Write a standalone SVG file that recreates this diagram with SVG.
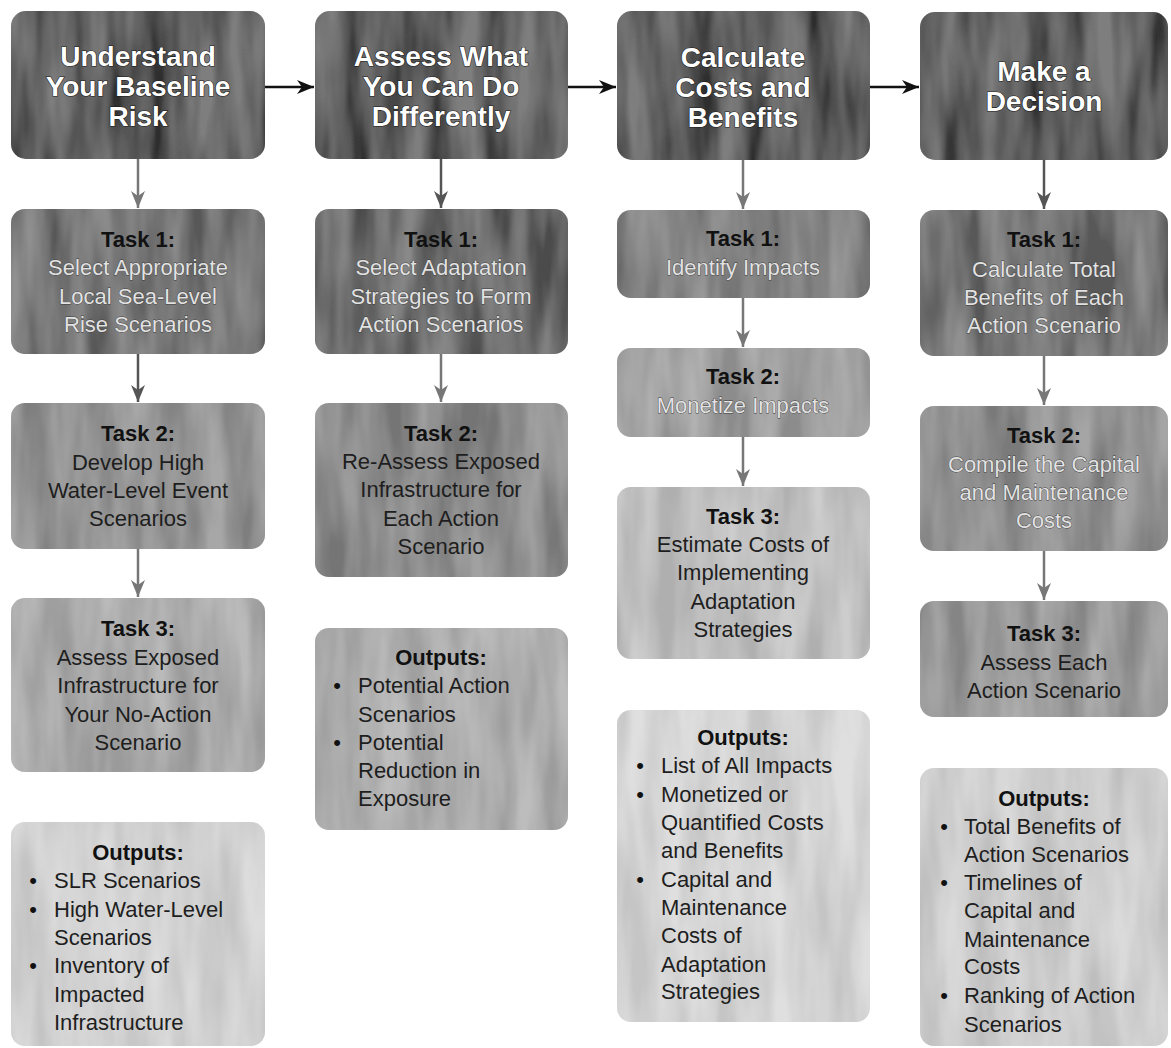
<svg xmlns="http://www.w3.org/2000/svg" width="1171" height="1048" viewBox="0 0 1171 1048">
<defs>
<style>
.hdr{fill:#353535;filter:url(#grunge)}
.box{filter:url(#grunge)}
.ht{font-family:"Liberation Sans",Arial,sans-serif;font-weight:bold;font-size:28px;fill:#ffffff;stroke:#1a1a1a;stroke-width:1.2;paint-order:stroke;text-anchor:middle}
.tt{font-family:"Liberation Sans",Arial,sans-serif;font-weight:bold;font-size:22px;fill:#111111;text-anchor:middle}
.bd{font-family:"Liberation Sans",Arial,sans-serif;font-size:22px;fill:#1e1e1e;text-anchor:middle}
.bl{font-family:"Liberation Sans",Arial,sans-serif;font-size:22px;fill:#e2e2e2;stroke:#3c3c3c;stroke-width:0.8;paint-order:stroke;text-anchor:middle}
.ot{font-family:"Liberation Sans",Arial,sans-serif;font-size:22px;fill:#1e1e1e}
.blt{font-family:"Liberation Sans",Arial,sans-serif;font-size:22px;fill:#111111;text-anchor:middle}
.ab{stroke:#111111;stroke-width:2.5;fill:none}
.ag{stroke:#777777;stroke-width:2.5;fill:none}
.ad{stroke:#555555;stroke-width:2.5;fill:none}
</style>
<filter id="grunge" x="0" y="0" width="1" height="1">
<feTurbulence type="fractalNoise" baseFrequency="0.035 0.006" numOctaves="3" seed="7" result="n"/>
<feColorMatrix in="n" type="matrix" values="2 0 0 0 -0.5  2 0 0 0 -0.5  2 0 0 0 -0.5  0 0 0 0 0.18" result="g"/>
<feComposite in="g" in2="SourceGraphic" operator="in" result="gi"/>
<feMerge><feMergeNode in="SourceGraphic"/><feMergeNode in="gi"/></feMerge>
</filter>
<marker id="mb" markerUnits="userSpaceOnUse" markerWidth="18" markerHeight="16" refX="17" refY="8" orient="auto"><path d="M0,1 L17,8 L0,15 L5,8 Z" fill="#111111"/></marker>
<marker id="mg" markerUnits="userSpaceOnUse" markerWidth="18" markerHeight="16" refX="17" refY="8" orient="auto"><path d="M0,1 L17,8 L0,15 L5,8 Z" fill="#777777"/></marker>
<marker id="md" markerUnits="userSpaceOnUse" markerWidth="18" markerHeight="16" refX="17" refY="8" orient="auto"><path d="M0,1 L17,8 L0,15 L5,8 Z" fill="#555555"/></marker>
</defs>
<rect width="1171" height="1048" fill="#ffffff"/>

<g id="connectors">
<line class="ab" x1="265" y1="87" x2="314" y2="87" marker-end="url(#mb)"/>
<line class="ab" x1="568" y1="87" x2="616" y2="87" marker-end="url(#mb)"/>
<line class="ab" x1="870" y1="87" x2="919" y2="87" marker-end="url(#mb)"/>
<line class="ag" x1="138" y1="159" x2="138" y2="208" marker-end="url(#mg)"/>
<line class="ad" x1="138" y1="354" x2="138" y2="402" marker-end="url(#md)"/>
<line class="ag" x1="138" y1="549" x2="138" y2="597" marker-end="url(#mg)"/>
<line class="ad" x1="441" y1="159" x2="441" y2="208" marker-end="url(#md)"/>
<line class="ag" x1="441" y1="354" x2="441" y2="402" marker-end="url(#mg)"/>
<line class="ag" x1="743" y1="160" x2="743" y2="209" marker-end="url(#mg)"/>
<line class="ag" x1="743" y1="298" x2="743" y2="347" marker-end="url(#mg)"/>
<line class="ag" x1="743" y1="437" x2="743" y2="486" marker-end="url(#mg)"/>
<line class="ad" x1="1044" y1="160" x2="1044" y2="209" marker-end="url(#md)"/>
<line class="ag" x1="1044" y1="356" x2="1044" y2="405" marker-end="url(#mg)"/>
<line class="ag" x1="1044" y1="551" x2="1044" y2="600" marker-end="url(#mg)"/>
</g>

<g id="h1"><rect class="hdr" x="11" y="11" width="254" height="148" rx="15"/>
<text class="ht" x="138" y="66">Understand</text><text class="ht" x="138" y="96">Your Baseline</text><text class="ht" x="138" y="126">Risk</text></g>
<g id="h2"><rect class="hdr" x="315" y="11" width="253" height="148" rx="15"/>
<text class="ht" x="441" y="66">Assess What</text><text class="ht" x="441" y="96">You Can Do</text><text class="ht" x="441" y="126">Differently</text></g>
<g id="h3"><rect class="hdr" x="617" y="11" width="253" height="149" rx="15"/>
<text class="ht" x="743" y="67">Calculate</text><text class="ht" x="743" y="97">Costs and</text><text class="ht" x="743" y="127">Benefits</text></g>
<g id="h4"><rect class="hdr" x="920" y="12" width="248" height="148" rx="15"/>
<text class="ht" x="1044" y="81">Make a</text><text class="ht" x="1044" y="111">Decision</text></g>

<g id="c1t1"><rect class="box" x="11" y="209" width="254" height="145" rx="14" fill="#626262"/>
<text class="tt" x="138" y="247">Task 1:</text>
<text class="bl" x="138" y="275">Select Appropriate</text><text class="bl" x="138" y="304">Local Sea-Level</text><text class="bl" x="138" y="332">Rise Scenarios</text></g>
<g id="c1t2"><rect class="box" x="11" y="403" width="254" height="146" rx="14" fill="#8a8a8a"/>
<text class="tt" x="138" y="441">Task 2:</text>
<text class="bd" x="138" y="470">Develop High</text><text class="bd" x="138" y="498">Water-Level Event</text><text class="bd" x="138" y="526">Scenarios</text></g>
<g id="c1t3"><rect class="box" x="11" y="598" width="254" height="174" rx="14" fill="#a6a6a6"/>
<text class="tt" x="138" y="636">Task 3:</text>
<text class="bd" x="138" y="665">Assess Exposed</text><text class="bd" x="138" y="693">Infrastructure for</text><text class="bd" x="138" y="722">Your No-Action</text><text class="bd" x="138" y="750">Scenario</text></g>
<g id="c1out"><rect class="box" x="11" y="822" width="254" height="224" rx="14" fill="#d6d6d6"/>
<text class="tt" x="138" y="860">Outputs:</text>
<text class="blt" x="33" y="888">•</text><text class="ot" x="54" y="888">SLR Scenarios</text>
<text class="blt" x="33" y="917">•</text><text class="ot" x="54" y="917">High Water-Level</text>
<text class="ot" x="54" y="945">Scenarios</text>
<text class="blt" x="33" y="973">•</text><text class="ot" x="54" y="973">Inventory of</text>
<text class="ot" x="54" y="1002">Impacted</text>
<text class="ot" x="54" y="1030">Infrastructure</text></g>

<g id="c2t1"><rect class="box" x="315" y="209" width="253" height="145" rx="14" fill="#545454"/>
<text class="tt" x="441" y="247">Task 1:</text>
<text class="bl" x="441" y="275">Select Adaptation</text><text class="bl" x="441" y="304">Strategies to Form</text><text class="bl" x="441" y="332">Action Scenarios</text></g>
<g id="c2t2"><rect class="box" x="315" y="403" width="253" height="174" rx="14" fill="#808080"/>
<text class="tt" x="441" y="441">Task 2:</text>
<text class="bd" x="441" y="469">Re-Assess Exposed</text><text class="bd" x="441" y="497">Infrastructure for</text><text class="bd" x="441" y="526">Each Action</text><text class="bd" x="441" y="554">Scenario</text></g>
<g id="c2out"><rect class="box" x="315" y="628" width="253" height="202" rx="14" fill="#aaaaaa"/>
<text class="tt" x="441" y="665">Outputs:</text>
<text class="blt" x="337" y="693">•</text><text class="ot" x="358" y="693">Potential Action</text>
<text class="ot" x="358" y="722">Scenarios</text>
<text class="blt" x="337" y="750">•</text><text class="ot" x="358" y="750">Potential</text>
<text class="ot" x="358" y="778">Reduction in</text>
<text class="ot" x="358" y="806">Exposure</text></g>

<g id="c3t1"><rect class="box" x="617" y="210" width="253" height="88" rx="14" fill="#727272"/>
<text class="tt" x="743" y="246">Task 1:</text>
<text class="bl" x="743" y="275">Identify Impacts</text></g>
<g id="c3t2"><rect class="box" x="617" y="348" width="253" height="89" rx="14" fill="#9a9a9a"/>
<text class="tt" x="743" y="384">Task 2:</text>
<text class="bl" x="743" y="413">Monetize Impacts</text></g>
<g id="c3t3"><rect class="box" x="617" y="487" width="253" height="172" rx="14" fill="#c0c0c0"/>
<text class="tt" x="743" y="524">Task 3:</text>
<text class="bd" x="743" y="552">Estimate Costs of</text><text class="bd" x="743" y="580">Implementing</text><text class="bd" x="743" y="609">Adaptation</text><text class="bd" x="743" y="637">Strategies</text></g>
<g id="c3out"><rect class="box" x="617" y="710" width="253" height="312" rx="14" fill="#d8d8d8"/>
<text class="tt" x="743" y="745">Outputs:</text>
<text class="blt" x="640" y="773">•</text><text class="ot" x="661" y="773">List of All Impacts</text>
<text class="blt" x="640" y="802">•</text><text class="ot" x="661" y="802">Monetized or</text>
<text class="ot" x="661" y="830">Quantified Costs</text>
<text class="ot" x="661" y="858">and Benefits</text>
<text class="blt" x="640" y="887">•</text><text class="ot" x="661" y="887">Capital and</text>
<text class="ot" x="661" y="915">Maintenance</text>
<text class="ot" x="661" y="943">Costs of</text>
<text class="ot" x="661" y="972">Adaptation</text>
<text class="ot" x="661" y="999">Strategies</text></g>

<g id="c4t1"><rect class="box" x="920" y="210" width="248" height="146" rx="14" fill="#626262"/>
<text class="tt" x="1044" y="247">Task 1:</text>
<text class="bl" x="1044" y="277">Calculate Total</text><text class="bl" x="1044" y="305">Benefits of Each</text><text class="bl" x="1044" y="333">Action Scenario</text></g>
<g id="c4t2"><rect class="box" x="920" y="406" width="248" height="145" rx="14" fill="#868686"/>
<text class="tt" x="1044" y="443">Task 2:</text>
<text class="bl" x="1044" y="472">Compile the Capital</text><text class="bl" x="1044" y="500">and Maintenance</text><text class="bl" x="1044" y="528">Costs</text></g>
<g id="c4t3"><rect class="box" x="920" y="601" width="248" height="116" rx="14" fill="#939393"/>
<text class="tt" x="1044" y="641">Task 3:</text>
<text class="bd" x="1044" y="670">Assess Each</text><text class="bd" x="1044" y="698">Action Scenario</text></g>
<g id="c4out"><rect class="box" x="920" y="768" width="248" height="278" rx="14" fill="#d0d0d0"/>
<text class="tt" x="1044" y="806">Outputs:</text>
<text class="blt" x="944" y="834">•</text><text class="ot" x="964" y="834">Total Benefits of</text>
<text class="ot" x="964" y="862">Action Scenarios</text>
<text class="blt" x="944" y="890">•</text><text class="ot" x="964" y="890">Timelines of</text>
<text class="ot" x="964" y="918">Capital and</text>
<text class="ot" x="964" y="947">Maintenance</text>
<text class="ot" x="964" y="974">Costs</text>
<text class="blt" x="944" y="1003">•</text><text class="ot" x="964" y="1003">Ranking of Action</text>
<text class="ot" x="964" y="1032">Scenarios</text></g>
</svg>
